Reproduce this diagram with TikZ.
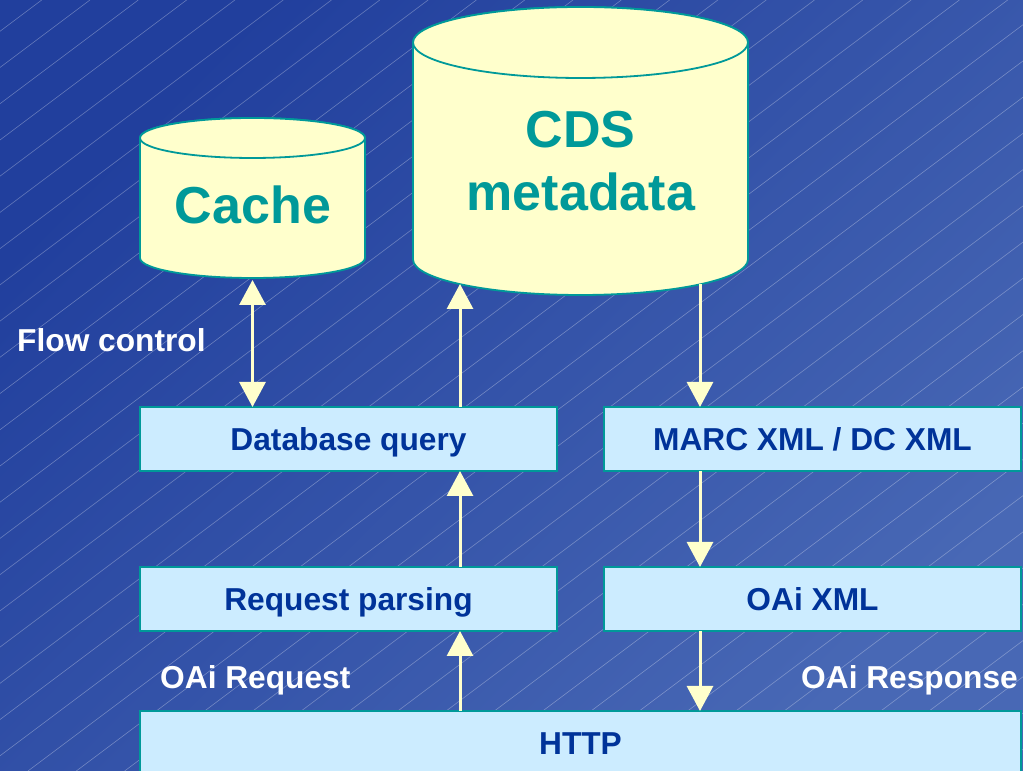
\documentclass[tikz,border=0pt]{standalone}
\usepackage{fontspec}
\setmainfont{Liberation Sans}
\usepackage{xcolor}
\usepackage{tikz}
\usetikzlibrary{positioning,arrows.meta}
\definecolor{SlideBlue}{HTML}{213F9D}
\definecolor{SlideBlueLight}{HTML}{4868B5}
\definecolor{StoreFill}{HTML}{FFFFCC}
\definecolor{StoreTeal}{HTML}{009999}
\definecolor{LayerFill}{HTML}{CCECFF}
\definecolor{LayerText}{HTML}{003399}

\begin{document}
\begin{tikzpicture}[x=1pt, y=1pt, >={Triangle[width=26pt,length=25pt]},
                    layer/.style={draw=StoreTeal, line width=1.5pt, fill=LayerFill, text=LayerText,
                                  font=\fontsize{31.7}{38}\selectfont\bfseries, minimum height=64pt,
                                  minimum width=417pt, inner sep=0pt, outer sep=0pt,
                                  text height=22.7pt, text depth=0pt},
                    store/.style={draw=StoreTeal, line width=1.8pt, fill=StoreFill},
                    storetext/.style={text=StoreTeal, inner sep=0pt},
                    note/.style={text=white, anchor=west, inner sep=0pt,
                                 font=\fontsize{31.7}{38}\selectfont\bfseries,
                                 text height=22.7pt, text depth=0pt},
                    hatch/.style={draw=white, opacity=0.3, line width=0.6pt},
                    flow/.style={draw=StoreFill, line width=3pt}]
\useasboundingbox (0,0) rectangle (1023,771);
\clip (0,0) rectangle (1023,771);
\shade[top color=SlideBlue, bottom color=SlideBlueLight, shading angle=45] (0,0) rectangle (1023,771);
\foreach \k in {0,...,42}
  \draw[hatch] ({41.7+48.3*\k},771) -- ++(-1028,-771);

\filldraw[store] (140,633) -- (140,513) arc[start angle=180, end angle=360, x radius=112.5, y radius=20]
  -- (365,633) arc[start angle=0, end angle=180, x radius=112.5, y radius=20] -- cycle;
\draw[store] (252.5,633) ellipse[x radius=112.5, y radius=20];
\filldraw[store] (413,728.5) -- (413,511.5) arc[start angle=180, end angle=360, x radius=167.5, y radius=35.5]
  -- (748,728.5) arc[start angle=0, end angle=180, x radius=167.5, y radius=35.5] -- cycle;
\draw[store] (580.5,728.5) ellipse[x radius=167.5, y radius=35.5];

\node[storetext, font=\fontsize{52}{62}\selectfont\bfseries, text height=37.2pt, text depth=0pt] (cache) at (253,566) {Cache};
\node[storetext, align=center, font=\fontsize{52}{63.4}\selectfont\bfseries] (cds) at (580.8,610) {CDS\\metadata};
\coordinate (cachefoot) at (252.5,491);
\coordinate (cdsfoot) at (580.5,487);
\coordinate (upx) at (460,0);
\coordinate (downx) at (700,0);

\node[layer] (dbq) at (348.5,332) {Database query};
\node[layer, right=47pt of dbq] (marc) {MARC XML / DC XML};
\node[layer, below=96pt of dbq] (parse) {Request parsing};
\node[layer, right=47pt of parse] (oaixml) {OAi XML};
\node[layer, minimum width=881pt, below=80pt of parse.south west, anchor=north west] (http) {HTTP};

\node[note] (flowctl) at (17,430.5) {Flow control};
\node[note] (oaireq) at (160,93.5) {OAi Request};
\node[note] (oairesp) at (801,93.5) {OAi Response};

\draw[flow, <->] (cachefoot) -- (dbq.north -| cachefoot);
\draw[flow, ->] (dbq.north -| upx) -- (cdsfoot -| upx);
\draw[flow, ->] (cdsfoot -| downx) -- (marc.north -| downx);
\draw[flow, ->] (marc.south -| downx) -- (oaixml.north -| downx);
\draw[flow, ->] (parse.north -| upx) -- (dbq.south -| upx);
\draw[flow, ->] (oaixml.south -| downx) -- (http.north -| downx);
\draw[flow, ->] (http.north -| upx) -- (parse.south -| upx);
\end{tikzpicture}
\end{document}
